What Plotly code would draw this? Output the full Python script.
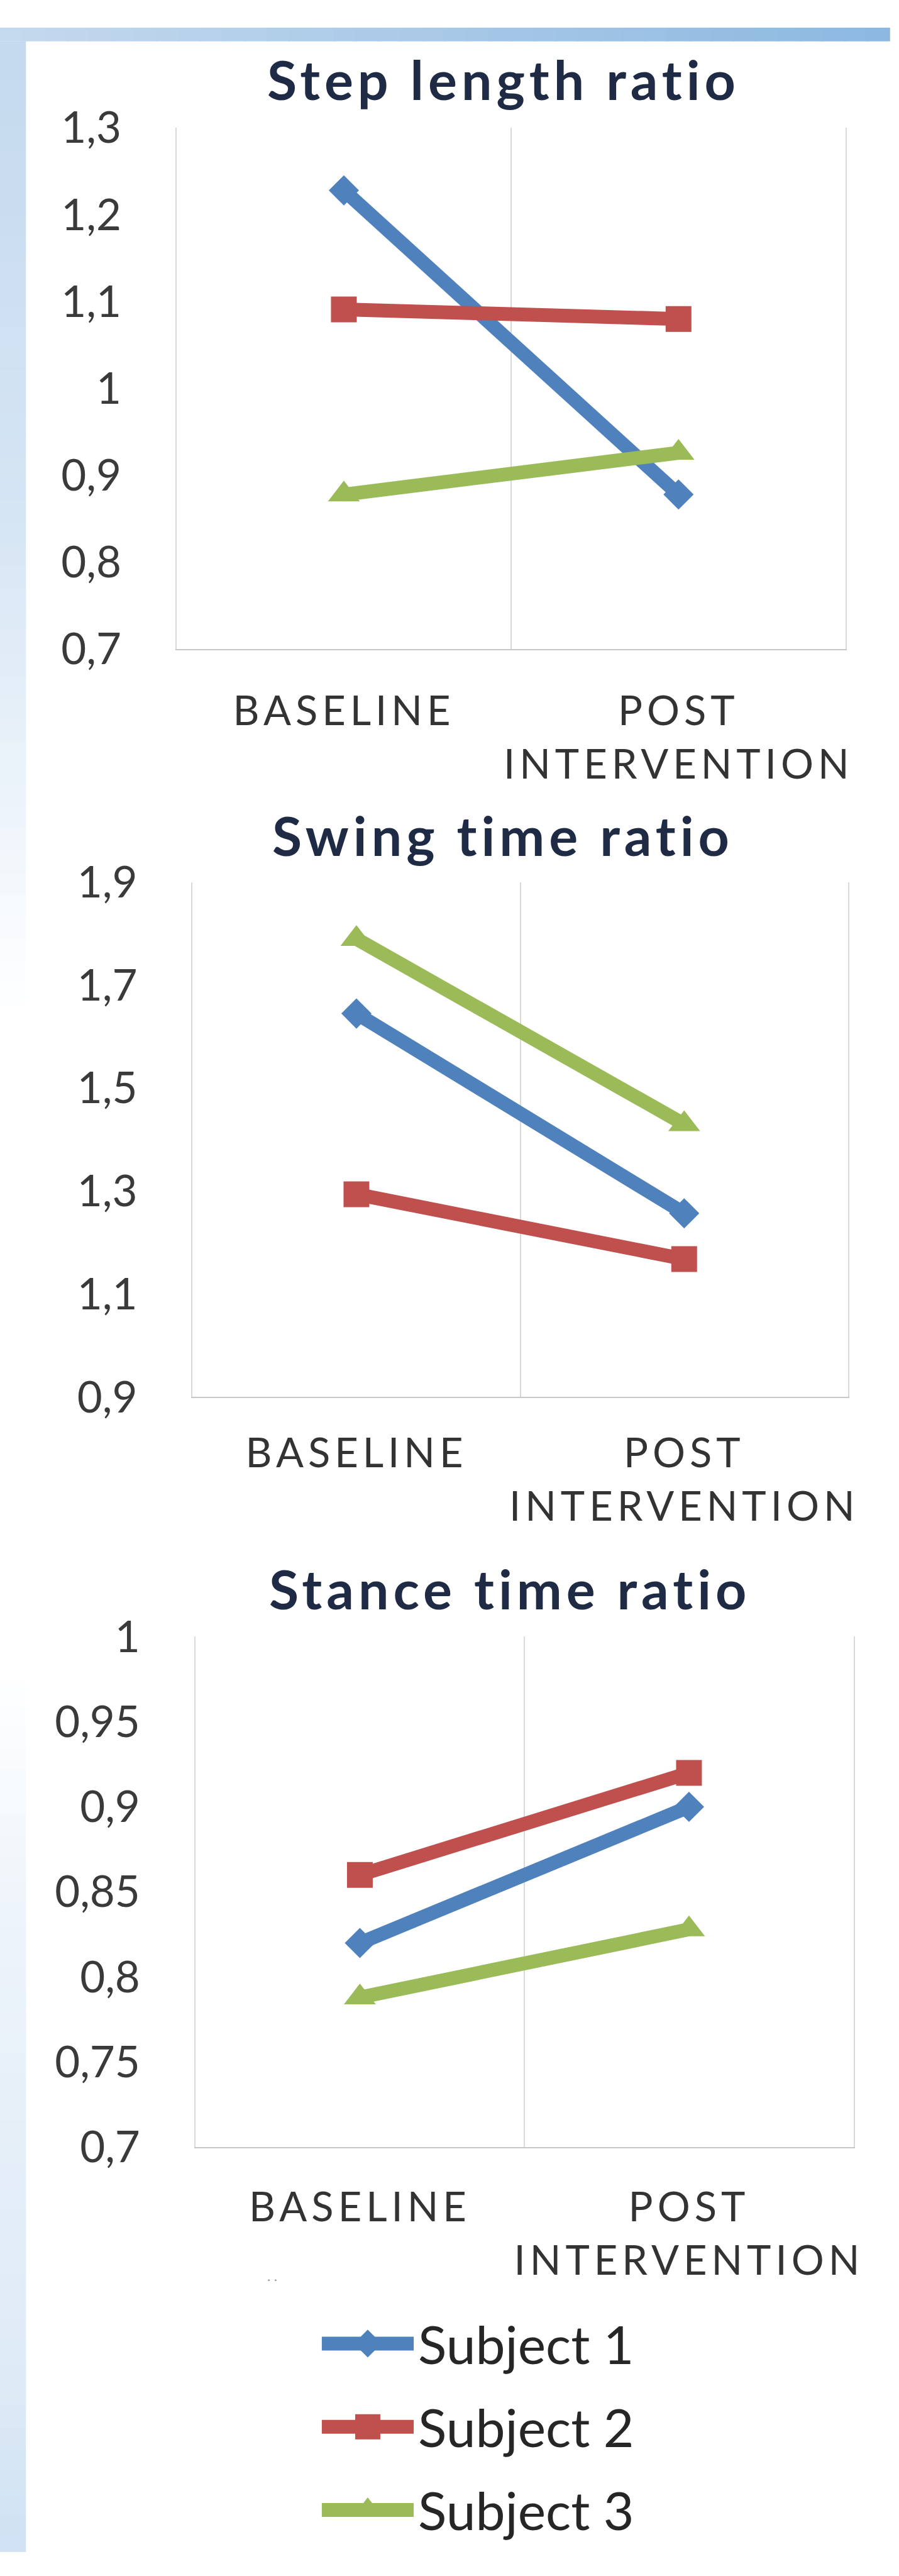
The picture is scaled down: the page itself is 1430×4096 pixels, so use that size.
import plotly.graph_objects as go

# ---------------- data ----------------
categories = ["BASELINE", "POST INTERVENTION"]
subjects = ["Subject 1", "Subject 2", "Subject 3"]
chart_titles = ["Step length ratio", "Swing time ratio", "Stance time ratio"]

step_s1 = [1.228, 0.878]
step_s2 = [1.091, 1.080]
step_s3 = [0.878, 0.926]

swing_s1 = [1.645, 1.257]
swing_s2 = [1.294, 1.168]
swing_s3 = [1.790, 1.430]

stance_s1 = [0.820, 0.900]
stance_s2 = [0.860, 0.920]
stance_s3 = [0.788, 0.828]

step_tickvals = [0.7, 0.8, 0.9, 1.0, 1.1, 1.2, 1.3]
step_ticktext = ["0,7", "0,8", "0,9", "1", "1,1", "1,2", "1,3"]
swing_tickvals = [0.9, 1.1, 1.3, 1.5, 1.7, 1.9]
swing_ticktext = ["0,9", "1,1", "1,3", "1,5", "1,7", "1,9"]
stance_tickvals = [0.7, 0.75, 0.8, 0.85, 0.9, 0.95, 1.0]
stance_ticktext = ["0,7", "0,75", "0,8", "0,85", "0,9", "0,95", "1"]

# ---------------- style ----------------
W, H = 1430, 4096
RW, RH = 1610, 4613
SX, SY = W / RW, H / RH

COLORS = ["#4F81BD", "#C0504D", "#9BBB59"]
SYMBOLS = ["diamond", "square", "triangle-up"]
MSIZE = [37, 41, 44]
LW = 22
FONT = "Lato, 'Open Sans', sans-serif"


def fx(x):
    return x * SX / W


def fy(y):
    return 1 - y * SY / H


def spaced(txt, sp):
    return "<br>".join(
        "<span style='letter-spacing:%dpx'>%s</span>" % (sp, part) for part in txt.split(" ")
    )


# plot areas (left, right, top, bottom) in reference pixels
areas = [
    (320, 1533, 183, 1136),
    (349, 1537, 1562, 2503),
    (354, 1547, 2941, 3874),
]
label_gap = [101, 91, 98]
title_pos = [(913, 94), (912, 1475), (924, 2852)]
series = [
    [step_s1, step_s2, step_s3],
    [swing_s1, swing_s2, swing_s3],
    [stance_s1, stance_s2, stance_s3],
]
ticks = [
    (step_tickvals, step_ticktext),
    (swing_tickvals, swing_ticktext),
    (stance_tickvals, stance_ticktext),
]

fig = go.Figure()
layout = dict(
    width=W,
    height=H,
    margin=dict(l=0, r=0, t=0, b=0),
    paper_bgcolor="white",
    plot_bgcolor="rgba(0,0,0,0)",
    showlegend=False,
    font=dict(family=FONT, color="#333333"),
)

xpos = list(range(len(categories)))
cat_text = [spaced(c, 7) for c in categories]

for k in range(3):
    ax = "" if k == 0 else str(k + 1)
    l, r, t, b = areas[k]
    tv, tt = ticks[k]
    for i, vals in enumerate(series[k]):
        fig.add_trace(
            go.Scatter(
                x=xpos,
                y=vals,
                mode="lines+markers",
                name=subjects[i],
                line=dict(color=COLORS[i], width=LW),
                marker=dict(symbol=SYMBOLS[i], size=MSIZE[i], color=COLORS[i]),
                xaxis="x" + ax,
                yaxis="y" + ax,
                cliponaxis=False,
            )
        )
    layout["xaxis" + ax] = dict(
        domain=[fx(l), fx(r)],
        anchor="y" + ax,
        range=[-0.5, len(categories) - 0.5],
        tickmode="array",
        tickvals=xpos,
        ticktext=cat_text,
        showgrid=False,
        zeroline=False,
        showline=True,
        linecolor="#C8C8C8",
        linewidth=2,
        ticks="",
        ticklabelstandoff=round(38 + (label_gap[k] - 98) * SY),
        tickfont=dict(size=65, color="#333333", family=FONT),
        minor=dict(
            tickmode="array",
            tickvals=[-0.5, 0.5, 1.5],
            showgrid=True,
            gridcolor="#D9D9D9",
            gridwidth=2,
            ticks="",
        ),
        fixedrange=True,
    )
    layout["yaxis" + ax] = dict(
        domain=[fy(b), fy(t)],
        anchor="x" + ax,
        range=[tv[0], tv[-1]],
        tickmode="array",
        tickvals=tv,
        ticktext=tt,
        showgrid=False,
        zeroline=False,
        showline=True,
        mirror=True,
        linecolor="#D9D9D9",
        linewidth=2,
        ticks="",
        ticklabelstandoff=72,
        tickfont=dict(size=69, color="#3A3A3A", family=FONT),
        fixedrange=True,
    )

# ---------------- legend (drawn on its own hidden axes) ----------------
leg_y = [4233, 4385, 4537]
leg_top, leg_bot = 4150, 4605
unit = (leg_y[1] - leg_y[0])
y_top_val = (leg_top - leg_y[0]) / unit
y_bot_val = (leg_bot - leg_y[0]) / unit
layout["xaxis4"] = dict(domain=[fx(583), fx(750)], range=[0, 1], visible=False,
                        anchor="y4", fixedrange=True)
layout["yaxis4"] = dict(domain=[fy(leg_bot), fy(leg_top)], range=[y_bot_val, y_top_val],
                        visible=False, anchor="x4", fixedrange=True)
LEG_MSIZE = [34, 40, 40]
for i, s in enumerate(subjects):
    fig.add_trace(go.Scatter(x=[0, 1], y=[i, i], mode="lines",
                             line=dict(color=COLORS[i], width=LW),
                             xaxis="x4", yaxis="y4", cliponaxis=False))
    fig.add_trace(go.Scatter(x=[0.5], y=[i], mode="markers",
                             marker=dict(symbol=SYMBOLS[i], size=LEG_MSIZE[i], color=COLORS[i]),
                             xaxis="x4", yaxis="y4", cliponaxis=False))

annotations = []
for i, s in enumerate(subjects):
    annotations.append(dict(
        x=fx(755), y=fy(leg_y[i]), xref="paper", yref="paper",
        text=s, showarrow=False, xanchor="left", yanchor="middle",
        font=dict(size=84, color="#262626", family=FONT),
    ))

for k in range(3):
    x0, y0 = title_pos[k]
    annotations.append(dict(
        x=fx(x0), y=fy(y0), xref="paper", yref="paper",
        text="<b><span style='letter-spacing:7px'>%s</span></b>" % chart_titles[k],
        showarrow=False, xanchor="center", yanchor="middle",
        font=dict(size=86, color="#1F2B45", family=FONT),
    ))

annotations.append(dict(
    x=fx(493), y=fy(4109), xref="paper", yref="paper", text=". .",
    showarrow=False, xanchor="center", yanchor="middle",
    font=dict(size=22, color="#9A9A9A", family=FONT),
))
layout["annotations"] = annotations


# ---------------- background frame (blue gradient bands) ----------------
def lerp(c1, c2, t):
    return tuple(int(round(a + (b - a) * t)) for a, b in zip(c1, c2))


shapes = []
top_l, top_r = (196, 217, 238), (140, 184, 224)
n = 40
for i in range(n):
    c = lerp(top_l, top_r, (i + 0.5) / n)
    shapes.append(dict(type="rect", xref="paper", yref="paper",
                       x0=i / n, x1=(i + 1) / n + 0.002, y0=fy(25), y1=1,
                       fillcolor="rgb(%d,%d,%d)" % c, line=dict(width=0), layer="below"))

stops = [(0, (196, 217, 238)), (900, (214, 229, 244)), (1400, (236, 243, 250)),
         (1800, (255, 255, 255)), (3000, (255, 255, 255)), (3500, (236, 243, 250)),
         (4313, (222, 234, 246)), (4613, (207, 225, 243))]
step = 40
y = 25
while y < RH:
    y2 = min(y + step, RH)
    ym = (y + y2) / 2
    for j in range(len(stops) - 1):
        if stops[j][0] <= ym <= stops[j + 1][0]:
            t = (ym - stops[j][0]) / (stops[j + 1][0] - stops[j][0])
            c = lerp(stops[j][1], stops[j + 1][1], t)
            break
    shapes.append(dict(type="rect", xref="paper", yref="paper",
                       x0=0, x1=fx(47), y0=fy(y2 + 1), y1=fy(y),
                       fillcolor="rgb(%d,%d,%d)" % c, line=dict(width=0), layer="below"))
    y = y2
layout["shapes"] = shapes

fig.update_layout(**layout)
fig.write_html("out.html", config={"displayModeBar": False})
